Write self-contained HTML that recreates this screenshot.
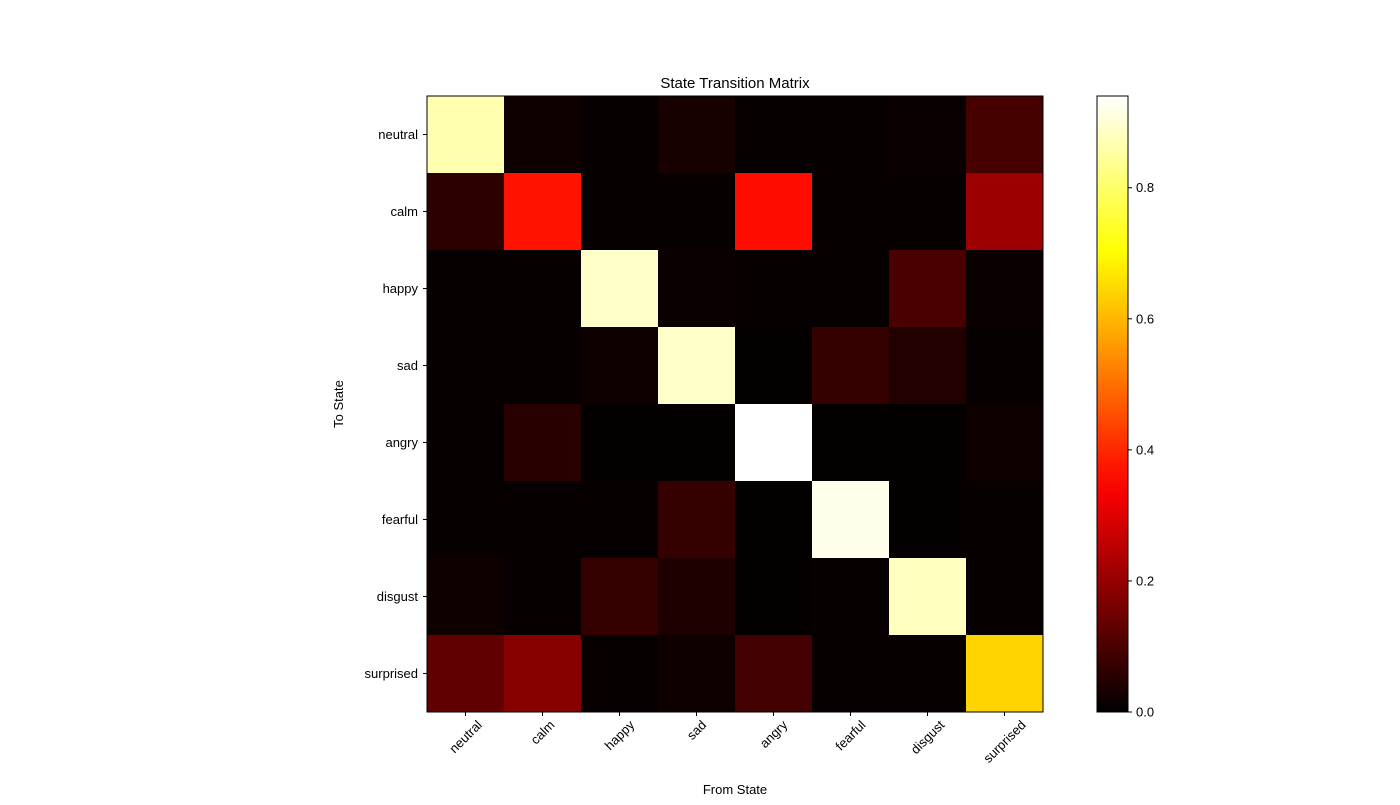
<!DOCTYPE html>
<html><head><meta charset="utf-8"><style>
body{margin:0;background:#fff;font-family:"Liberation Sans",sans-serif;}
svg text{font-family:"Liberation Sans",sans-serif;font-size:13px;fill:#000;}
</style></head><body>
<svg id="chart" width="1400" height="800">
<text x="735" y="88" text-anchor="middle" style="font-size:15px">State Transition Matrix</text>
<text x="735" y="794" text-anchor="middle">From State</text>
<text transform="translate(343,404) rotate(-90)" text-anchor="middle">To State</text>
<g id="cells"></g>
<g id="axes"></g>
<defs><linearGradient id="hotgrad" x1="0" y1="1" x2="0" y2="0"></linearGradient></defs>
<g id="cbar"></g>
</svg>
<script>
const states = ["neutral","calm","happy","sad","angry","fearful","disgust","surprised"];
const rowNeutral   = [0.865,0.02,0.01,0.03,0.01,0.01,0.015,0.094];
const rowCalm      = [0.06,0.37,0.01,0.01,0.36,0.01,0.01,0.21];
const rowHappy     = [0.01,0.01,0.89,0.015,0.01,0.01,0.10,0.015];
const rowSad       = [0.01,0.01,0.02,0.89,0.005,0.07,0.045,0.01];
const rowAngry     = [0.01,0.055,0.005,0.005,0.94,0.005,0.005,0.02];
const rowFearful   = [0.01,0.01,0.01,0.07,0.005,0.92,0.005,0.01];
const rowDisgust   = [0.02,0.01,0.07,0.04,0.005,0.01,0.88,0.01];
const rowSurprised = [0.13,0.18,0.01,0.02,0.09,0.01,0.01,0.64];
const matrix = [rowNeutral,rowCalm,rowHappy,rowSad,rowAngry,rowFearful,rowDisgust,rowSurprised];
const vmin = 0, vmax = 0.94;
const cbTicks = [0.0,0.2,0.4,0.6,0.8];

const NS="http://www.w3.org/2000/svg";
const L=427,T=96,W=616,H=616,n=states.length,cw=W/n,ch=H/n;
function hot(v){let t=Math.max(0,Math.min(1,(v-vmin)/(vmax-vmin)));
 const r=Math.min(1,t/0.365), g=Math.max(0,Math.min(1,(t-0.365)/0.381)), b=Math.max(0,Math.min(1,(t-0.746)/0.254));
 return `rgb(${Math.round(r*255)},${Math.round(g*255)},${Math.round(b*255)})`;}
function mk(tag,attrs,parent){const e=document.createElementNS(NS,tag);for(const k in attrs)e.setAttribute(k,attrs[k]);parent.appendChild(e);return e;}
const xs=i=>L+i*cw, ys=j=>T+j*ch;
const cells=document.getElementById('cells');
matrix.forEach((row,j)=>row.forEach((v,i)=>{
 const r=mk('rect',{x:xs(i),y:ys(j),width:cw+0.5,height:ch+0.5,fill:hot(v)},cells);
 
 
}));
const ax=document.getElementById('axes');
mk('rect',{x:L,y:T,width:W,height:H,fill:'none',stroke:'#000','stroke-width':1},ax);
states.forEach((s,i)=>{
 const cx=xs(i)+cw/2, cy=ys(i)+ch/2;
 mk('line',{x1:cx,x2:cx,y1:T+H,y2:T+H+4,stroke:'#000'},ax);
 const tx=mk('text',{x:0,y:4.5,'text-anchor':'middle'},ax);
 tx.textContent=s;
 
 
 const len=tx.getComputedTextLength();
 const half=(len+13)*0.7071/2;
 tx.setAttribute('transform',`translate(${cx},${T+H+6+half}) rotate(-45)`);
 mk('line',{x1:L-4,x2:L,y1:cy,y2:cy,stroke:'#000'},ax);
 const ty=mk('text',{x:L-9,y:cy+4.5,'text-anchor':'end'},ax);
 ty.textContent=s;
 
 
});
const grad=document.getElementById('hotgrad');
for(let k=0;k<=20;k++){mk('stop',{offset:(k/20),'stop-color':hot(vmin+(vmax-vmin)*k/20)},grad);}
const cb=document.getElementById('cbar');
const CX=1097,CW=31;
const cy=v=>T+H-(v-vmin)/(vmax-vmin)*H;
mk('rect',{x:CX,y:T,width:CW,height:H,fill:'url(#hotgrad)',stroke:'#000','stroke-width':1},cb);
cbTicks.forEach(v=>{
 mk('line',{x1:CX+CW,x2:CX+CW+4,y1:cy(v),y2:cy(v),stroke:'#000'},cb);
 const t=mk('text',{x:CX+CW+8,y:cy(v)+4.5},cb);
 t.textContent=v.toFixed(1);
 
 
});
</script>
</body></html>
